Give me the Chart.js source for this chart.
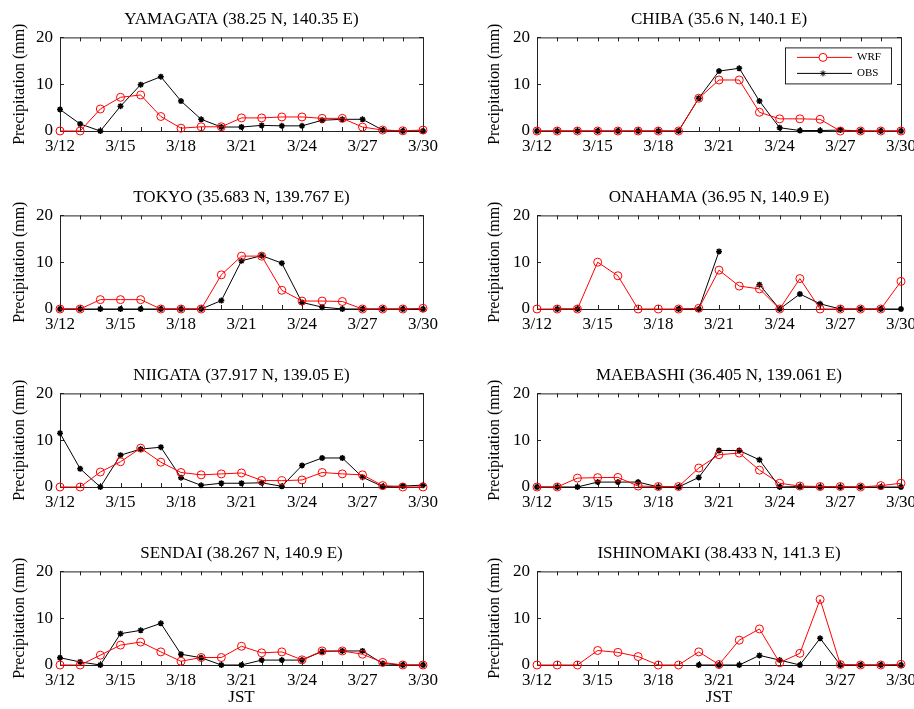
<!DOCTYPE html>
<html>
<head>
<meta charset="utf-8">
<script src="https://cdn.jsdelivr.net/npm/chart.js@4/dist/chart.umd.min.js"></script>
<style>
  html, body { margin: 0; padding: 0; background: #fff; overflow: hidden; }
  #wrap { position: relative; width: 914px; height: 709px; overflow: hidden; }
  #wrap canvas { position: absolute; }
</style>
</head>
<body>
<div id="wrap"></div>
<script>
const dates = ['3/12','3/13','3/14','3/15','3/16','3/17','3/18','3/19','3/20','3/21','3/22','3/23','3/24','3/25','3/26','3/27','3/28','3/29','3/30'];
const tickLabels = ['3/12','3/15','3/18','3/21','3/24','3/27','3/30'];
const yTicks = [0, 10, 20];

const yamagataWrf = [0,0,4.7,7.2,7.7,3.1,0.6,0.9,0.9,2.8,2.8,3.0,3.0,2.7,2.7,0.85,0.2,0.05,0.2];
const yamagataObs = [4.6,1.5,0,5.3,9.9,11.6,6.4,2.5,0.85,0.85,1.2,1.1,1.1,2.3,2.5,2.5,0.2,0,0];

const chibaWrf = [0,0,0,0,0,0,0,0,7.0,10.9,10.9,4.0,2.6,2.6,2.5,0,0,0,0];
const chibaObs = [0,0,0,0,0,0,0,0,7.0,12.8,13.4,6.4,0.7,0.1,0.1,0.2,0,0,0];

const tokyoWrf = [0,0,2.0,2.0,2.0,0,0,0,7.3,11.3,11.3,4.0,1.7,1.7,1.6,0,0,0,0.15];
const tokyoObs = [0,0,0,0,0,0,0,0,1.8,10.3,11.4,9.8,1.4,0.4,0,0,0,0,0];

const onahamaWrf = [0,0,0,10.0,7.1,0,0,0,0.15,8.3,4.9,4.3,0,6.5,0,0,0,0,5.9];
const onahamaObs = [null,0,0,null,null,null,null,0,0,12.3,null,5.2,0,3.2,1.1,0,0,0,0];

const niigataWrf = [0,0,3.2,5.4,8.3,5.3,3.1,2.6,2.8,3.0,1.4,1.35,1.5,3.1,2.8,2.6,0.3,0,0];
const niigataObs = [11.5,3.9,0,6.8,8.1,8.5,2.0,0.35,0.8,0.8,0.9,0.15,4.6,6.2,6.2,2.1,0.1,0.2,0.4];

const maebashiWrf = [0,0,1.9,2.0,2.05,0.2,0.1,0.1,4.05,6.9,7.25,3.6,0.8,0.2,0.1,0.1,0,0.3,0.8];
const maebashiObs = [0,0,0,1.05,1.05,1.05,0,0,2.05,7.8,7.8,5.8,0,0.1,0,0,0,0,0];

const sendaiWrf = [0,0,2.1,4.25,4.9,2.8,0.8,1.6,1.6,4.0,2.6,2.8,1.1,3.0,3.0,2.3,0.55,0,0];
const sendaiObs = [1.55,0.65,0,6.7,7.4,8.9,2.3,1.55,0,0,1.05,1.05,1.05,2.9,3.0,3.0,0.3,0,0];

const ishinomakiWrf = [0,0,0,3.1,2.7,1.8,0,0,2.8,0.1,5.3,7.7,0.5,2.5,14.0,0.1,0,0,0.15];
const ishinomakiObs = [null,null,null,null,null,null,null,null,0,0,0,2.05,1.05,0,5.7,0,0,0,0];

const panels = [
  { title: 'YAMAGATA (38.25 N, 140.35 E)', wrf: yamagataWrf, obs: yamagataObs },
  { title: 'CHIBA (35.6 N, 140.1 E)', wrf: chibaWrf, obs: chibaObs, legend: true },
  { title: 'TOKYO (35.683 N, 139.767 E)', wrf: tokyoWrf, obs: tokyoObs },
  { title: 'ONAHAMA (36.95 N, 140.9 E)', wrf: onahamaWrf, obs: onahamaObs },
  { title: 'NIIGATA (37.917 N, 139.05 E)', wrf: niigataWrf, obs: niigataObs },
  { title: 'MAEBASHI (36.405 N, 139.061 E)', wrf: maebashiWrf, obs: maebashiObs },
  { title: 'SENDAI (38.267 N, 140.9 E)', wrf: sendaiWrf, obs: sendaiObs },
  { title: 'ISHINOMAKI (38.433 N, 141.3 E)', wrf: ishinomakiWrf, obs: ishinomakiObs }
];

const FONT = '"Liberation Serif", "Times New Roman", serif';

// matlab style box with inward ticks
const boxPlugin = {
  id: 'box',
  beforeDatasetsDraw(chart) {
    const { ctx, chartArea: a, scales } = chart;
    ctx.save();
    ctx.strokeStyle = '#222';
    ctx.lineWidth = 1;
    ctx.strokeRect(a.left + 0.5, a.top + 0.5, a.right - a.left, a.bottom - a.top);
    ctx.beginPath();
    const tl = 4;
    dates.forEach((d, i) => {
      const x = Math.round(scales.x.getPixelForValue(i)) + 0.5;
      ctx.moveTo(x, a.top); ctx.lineTo(x, a.top + tl);
      ctx.moveTo(x, a.bottom); ctx.lineTo(x, a.bottom - tl);
    });
    yTicks.forEach(v => {
      const y = Math.round(scales.y.getPixelForValue(v)) + 0.5;
      ctx.moveTo(a.left, y); ctx.lineTo(a.left + tl, y);
      ctx.moveTo(a.right, y); ctx.lineTo(a.right - tl, y);
    });
    ctx.stroke();
    ctx.restore();
  },
  afterDraw(chart) {
    if (!chart.options.plugins.box || !chart.options.plugins.box.legend) return;
    const { ctx, chartArea: a } = chart;
    const w = 106, h = 36;
    const x0 = a.right - 10 - w, y0 = a.top + 10;
    ctx.save();
    ctx.fillStyle = '#fff';
    ctx.fillRect(x0, y0, w, h);
    ctx.strokeStyle = '#222';
    ctx.lineWidth = 1;
    ctx.strokeRect(x0 + 0.5, y0 + 0.5, w, h);
    chart.data.datasets.forEach((ds, i) => {
      const y = y0 + 10 + i * 16;
      ctx.strokeStyle = ds.borderColor;
      ctx.lineWidth = 1;
      ctx.beginPath();
      ctx.moveTo(x0 + 12, y); ctx.lineTo(x0 + 67, y);
      ctx.stroke();
      Chart.helpers.drawPoint(ctx, {
        pointStyle: ds.pointStyle, radius: ds.pointRadius, borderWidth: ds.pointBorderWidth, rotation: 0
      }, x0 + 38, y);
      ctx.fillStyle = '#000';
      ctx.font = '11px ' + FONT;
      ctx.textBaseline = 'middle';
      ctx.fillText(ds.label, x0 + 72, y);
    });
    ctx.restore();
  }
};

const wrap = document.getElementById('wrap');
panels.forEach((p, idx) => {
  const col = idx % 2, row = Math.floor(idx / 2);
  const last = row === 3;
  const cw = col === 0 ? 457 : 470, ch = last ? 175 : 178;
  const canvas = document.createElement('canvas');
  canvas.width = cw; canvas.height = ch;
  canvas.style.left = (col * 457) + 'px';
  canvas.style.top = (row * 178) + 'px';
  wrap.appendChild(canvas);

  const padLeft = col === 0 ? 10 : 28;
  const padRight = col === 0 ? 34 : cw - 444;
  const plotLeft = col === 0 ? 60 : 80;

  new Chart(canvas.getContext('2d'), {
    type: 'line',
    data: {
      labels: dates,
      datasets: [{
        label: 'WRF',
        data: p.wrf,
        borderColor: '#ff0000',
        backgroundColor: 'rgba(0,0,0,0)',
        borderWidth: 1,
        pointStyle: 'circle',
        pointRadius: 4,
        pointBorderWidth: 1,
        pointBackgroundColor: 'rgba(0,0,0,0)',
        pointBorderColor: '#ff0000',
        tension: 0,
        spanGaps: false,
        clip: false
      }, {
        label: 'OBS',
        data: p.obs,
        borderColor: '#000000',
        backgroundColor: '#000000',
        borderWidth: 1,
        pointStyle: 'star',
        pointRadius: 3,
        pointBorderWidth: 1.5,
        pointBorderColor: '#000000',
        tension: 0,
        spanGaps: false,
        clip: false
      }]
    },
    options: {
      responsive: false,
      animation: false,
      layout: { padding: { left: padLeft, right: padRight, top: 0, bottom: last ? 1 : 0 } },
      plugins: {
        legend: { display: false },
        tooltip: { enabled: false },
        box: { legend: !!p.legend },
        title: {
          display: true,
          fullSize: false,
          text: p.title,
          color: '#000',
          font: { family: FONT, size: 17, weight: 'normal' },
          padding: { top: 9, bottom: 8 }
        }
      },
      scales: {
        x: {
          type: 'category',
          offset: false,
          grid: { display: false, drawTicks: false },
          border: { display: false },
          ticks: {
            autoSkip: false,
            maxRotation: 0,
            padding: 5,
            color: '#000',
            font: { family: FONT, size: 17 },
            callback: function (value) {
              const lab = this.getLabelForValue(value);
              return tickLabels.includes(lab) ? lab : '';
            }
          },
          title: {
            display: last,
            text: 'JST',
            color: '#000',
            font: { family: FONT, size: 17 },
            padding: { top: 0, bottom: 0 }
          },
          afterFit(scale) { scale.height = ch - 131 - (last ? 1 : 0); }
        },
        y: {
          min: 0,
          max: 20,
          grid: { display: false, drawTicks: false },
          border: { display: false },
          ticks: {
            stepSize: 10,
            padding: 7,
            color: '#000',
            font: { family: FONT, size: 17 }
          },
          title: {
            display: true,
            text: 'Precipitation (mm)',
            color: '#000',
            font: { family: FONT, size: 16 },
            padding: { top: 0, bottom: 0 }
          },
          afterFit(scale) { scale.width = plotLeft - padLeft; }
        }
      }
    },
    plugins: [boxPlugin]
  });
});
</script>
</body>
</html>
